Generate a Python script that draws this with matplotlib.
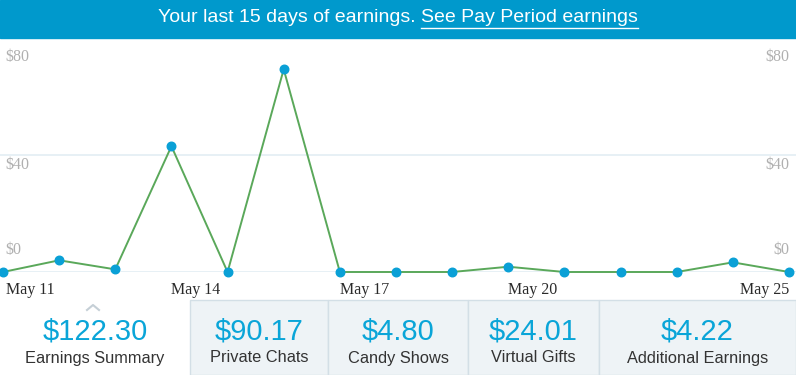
import matplotlib.pyplot as plt
from matplotlib.patches import Rectangle
from matplotlib.lines import Line2D

# daily earnings, May 11 .. May 25
days = ["May 11", "May 12", "May 13", "May 14", "May 15", "May 16", "May 17", "May 18",
        "May 19", "May 20", "May 21", "May 22", "May 23", "May 24", "May 25"]
earnings = [0.0, 4.0, 0.9, 43.0, 0.0, 69.3, 0.0, 0.0, 0.0, 1.8, 0.0, 0.0, 0.0, 3.3, 0.0]
shown_ticks = [0, 3, 6, 9, 14]
y_ticks = [0, 40, 80]

tile_values = ["$122.30", "$90.17", "$4.80", "$24.01", "$4.22"]
tile_names = ["Earnings Summary", "Private Chats", "Candy Shows", "Virtual Gifts", "Additional Earnings"]
tile_edges = [0, 190, 328, 468, 599, 796]

W, H = 796, 375
BLUE = "#0099cc"
fig = plt.figure(figsize=(W / 100, H / 100), dpi=100)


def px(x, y):
    # pixel coords (top-left origin) -> figure fraction
    return x / W, 1 - y / H


# banner
fig.patches.append(Rectangle((0, 1 - 38 / H), 1, 38 / H, transform=fig.transFigure,
                             color=BLUE, zorder=0))
sans = ["Liberation Sans", "DejaVu Sans"]
part1 = "Your last 15 days of earnings. "
part2 = "See Pay Period earnings"
t1 = fig.text(0, 0, part1, color="white", fontsize=14, family=sans, va="center")
t2 = fig.text(0, 0, part2, color="white", fontsize=14, family=sans, va="center")
r = fig.canvas.get_renderer()
w1 = t1.get_window_extent(r).width
w2 = t2.get_window_extent(r).width
x0 = (W - w1 - w2) / 2
t1.set_position(px(x0, 17))
t2.set_position(px(x0 + w1, 17))
fig.lines.append(Line2D([(x0 + w1) / W, (x0 + w1 + w2) / W], [1 - 27.5 / H] * 2,
                        transform=fig.transFigure, color="white", lw=1))

# chart
step = 786 / 14
bottom = (H - 272) / H
top = (H - 38) / H
ax = fig.add_axes([0, bottom, 1, top - bottom])
ax.set_xlim(-3 / step, 14 + 7 / step)
ax.set_ylim(0, 80)
ax.axis("off")
for v in y_ticks:
    ax.axhline(v, color="#e3eef4", lw=1.2, zorder=1)
ax.plot(range(len(earnings)), earnings, color="#5aa85a", lw=1.4, zorder=2,
        clip_on=False)
ax.scatter(range(len(earnings)), earnings, s=38, color="#0aa0d6", zorder=3,
           clip_on=False)

serif = ["Liberation Serif", "DejaVu Serif"]
label_y = {80: 57, 40: 165, 0: 250}
for v in y_ticks:
    fig.text(5 / W, 1 - label_y[v] / H, f"${v}", color="#b0b0b0", fontsize=11.5,
             family=serif, va="center", ha="left")
    fig.text(789 / W, 1 - label_y[v] / H, f"${v}", color="#b0b0b0", fontsize=11.5,
             family=serif, va="center", ha="right")
for i in shown_ticks:
    xf = ax.transData.transform((i, 0))[0] / W
    ha = "right" if i == len(days) - 1 else "left"
    if i == 0:
        xf = 6 / W
    fig.text(xf, 1 - 290 / H, days[i], color="#2a2a2a", fontsize=11.5, family=serif,
             va="center", ha=ha)

# summary tiles
for k in range(len(tile_values)):
    x_a, x_b = tile_edges[k], tile_edges[k + 1]
    if k > 0:
        fig.patches.append(Rectangle((x_a / W, 0), (x_b - x_a) / W, 75 / H,
                                     transform=fig.transFigure, facecolor="#eef3f6",
                                     edgecolor="#d3dfe6", lw=1, zorder=0))
    cx = (x_a + x_b) / 2
    fig.text(cx / W, 1 - 331 / H, tile_values[k], color="#0aa5d8", fontsize=21,
             family=sans, ha="center", va="center")
    fig.text(cx / W, 1 - 358 / H, tile_names[k], color="#333333", fontsize=11.8,
             family=sans, ha="center", va="center")

# caret above the active tile
fig.lines.append(Line2D([87 / W, 93 / W, 99 / W], [1 - 310 / H, 1 - 305 / H, 1 - 310 / H],
                        transform=fig.transFigure, color="#c5cfd6", lw=1.5))

fig.savefig("out.png", dpi=100)
